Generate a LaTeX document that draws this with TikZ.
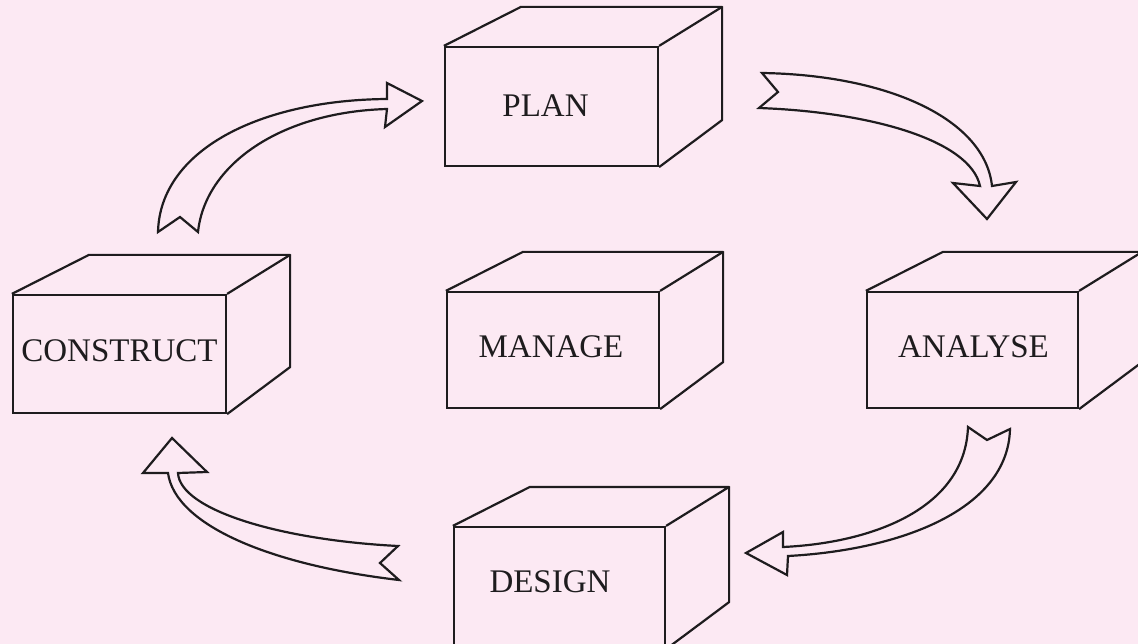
\documentclass[tikz,border=0pt]{standalone}
\usepackage{fontspec}
\setmainfont{Liberation Serif}
\definecolor{bgpink}{RGB}{252,233,243}
\definecolor{ink}{RGB}{30,28,30}
\tikzset{
  face/.style={draw=ink, line width=2.2pt, fill=bgpink, inner sep=0pt, rectangle},
  edgethreed/.style={draw=ink, line width=2.2pt, line join=round},
  boxlabel/.style={anchor=base, inner sep=0pt, font=\fontsize{33}{33}\selectfont, text=ink},
  blockarrow/.style={draw=ink, line width=2.2pt, fill=bgpink, line join=miter},
}
\newcommand{\cuboid}[5]{%
  \node[face, minimum width={(#4-#2)*1pt}, minimum height={(#5-#3)*1pt}] (#1) at ({(#2+#4)/2},{(#3+#5)/2}) {};
  \draw[edgethreed] (#1.north west) -- ++(77,-39) -- ([shift={(63,-39)}]#1.north east) -- (#1.north east);
  \draw[edgethreed] ([shift={(63,-39)}]#1.north east) -- ([shift={(63,-47)}]#1.south east) -- (#1.south east);
}
\begin{document}
\begin{tikzpicture}[x=1pt,y=-1pt]
\useasboundingbox (0,0) rectangle (1138,644);
\clip (0,0) rectangle (1138,644);
\fill[bgpink] (0,0) rectangle (1138,644);

\cuboid{plan}{445}{47}{658}{166}
\cuboid{construct}{13}{295}{226}{413}
\cuboid{manage}{447}{292}{659}{408}
\cuboid{analyse}{867}{292}{1078}{408}
\cuboid{design}{454}{527}{665}{648}

\node[boxlabel] (plan-t) at (545.5,117) {PLAN};
\node[boxlabel] (construct-t) at (119.5,362) {CONSTRUCT};
\node[boxlabel] (manage-t) at (551,357) {MANAGE};
\node[boxlabel] (analyse-t) at (973.5,358) {ANALYSE};
\node[boxlabel] (design-t) at (550,592) {DESIGN};

% construct -> plan
\draw[blockarrow] (158,232) -- (180,217) -- (198,232) .. controls (205,165) and (280,112) .. (387,109) -- (385,127) -- (422,101) -- (387,83) -- (387,99) .. controls (260,100) and (160,150) .. (158,232) -- cycle;
% plan -> analyse
\draw[blockarrow] (762,73) .. controls (890,75) and (985,120) .. (992,186) -- (1016,182) -- (987,219) -- (953,183) -- (980,186) .. controls (970,140) and (870,112) .. (759,108) -- (778,92) -- cycle;
% analyse -> design
\draw[blockarrow] (968,427) -- (987,440) -- (1010,429) .. controls (1008,510) and (900,550) .. (788,556) -- (787,575) -- (746,553) -- (783,532) -- (783,547) .. controls (870,543) and (965,510) .. (968,427) -- cycle;
% design -> construct
\draw[blockarrow] (398,546) .. controls (280,540) and (180,510) .. (178,473) -- (207,472) -- (172,438) -- (143,473) -- (168,473) .. controls (175,525) and (270,565) .. (399,580) -- (380,563) -- cycle;
\end{tikzpicture}
\end{document}
